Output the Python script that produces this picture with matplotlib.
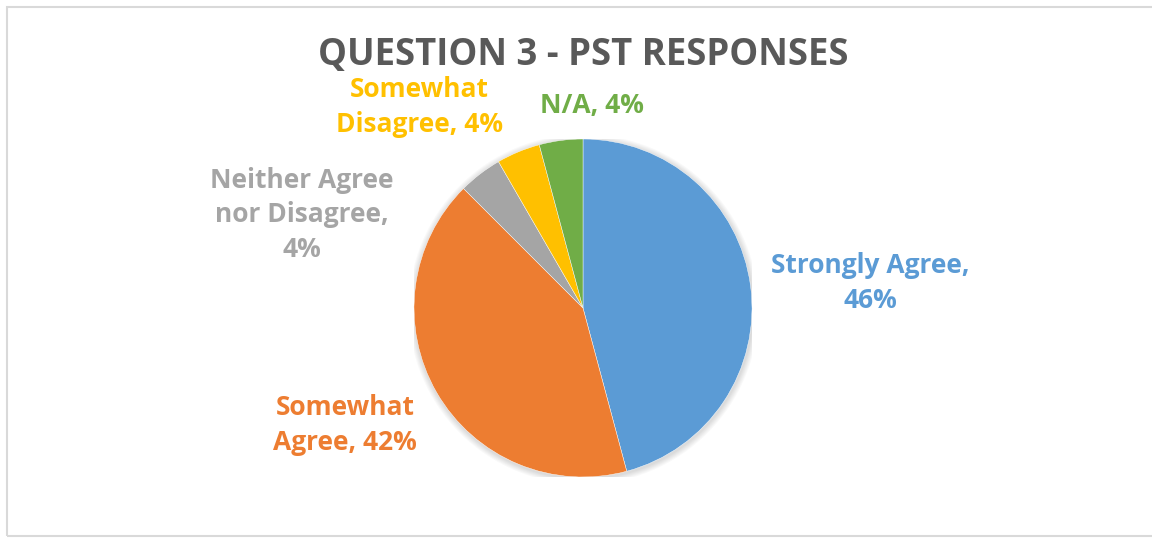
import numpy as np
import matplotlib.pyplot as plt
from matplotlib.patches import Rectangle, Circle

# response counts for question 3
categories = ["Strongly Agree", "Somewhat Agree", "Neither Agree nor Disagree",
              "Somewhat Disagree", "N/A"]
counts = [11, 10, 1, 1, 1]
colors = ["#5B9BD5", "#ED7D31", "#A5A5A5", "#FFC000", "#70AD47"]

# label text lines (category wrapped like the spreadsheet does) and centre in pixels
label_lines = [
    ["Strongly Agree,", "{p}"],
    ["Somewhat", "Agree, {p}"],
    ["Neither Agree", "nor Disagree,", "{p}"],
    ["Somewhat", "Disagree, {p}"],
    ["N/A, {p}"],
]
label_pos = [(870, 283), (345, 425), (302, 215), (419, 107), (592, 105)]

W, H = 1152, 538
fig = plt.figure(figsize=(W / 100, H / 100), dpi=100)
plt.rcParams['font.family'] = ['Open Sans', 'DejaVu Sans']

# chart frame (right side runs off the image)
fig.patches.append(Rectangle((7 / W, 2 / H), 1160 / W, 529 / H, transform=fig.transFigure,
                             fill=False, edgecolor="#D9D9D9", linewidth=1.5))

cx, cy, r = 583, 308, 169
ax = fig.add_axes([(cx - r) / W, (H - cy - r) / H, 2 * r / W, 2 * r / H])

# soft shadow behind the pie
for k in range(6):
    ax.add_patch(Circle((0.004, -0.008), 1 + 0.006 * (k + 1), color="black",
                        alpha=0.025, linewidth=0, zorder=0))

ax.pie(counts, colors=colors, startangle=90, counterclock=False, radius=1,
       wedgeprops=dict(edgecolor="white", linewidth=0.3))
ax.set_xlim(-1, 1)
ax.set_ylim(-1, 1)
ax.set_aspect("equal")
ax.axis("off")

total = sum(counts)
for lines, (x, y), c, n in zip(label_lines, label_pos, colors, counts):
    pct = "{:.0f}%".format(100 * n / total)
    txt = "\n".join(l.format(p=pct) for l in lines)
    fig.text(x / W, 1 - y / H, txt, ha="center", va="center", color=c,
             fontsize=19, fontweight="bold", linespacing=1.38)

fig.text(583 / W, 1 - 55 / H, "QUESTION 3 - PST RESPONSES", ha="center", va="center",
         color="#595959", fontsize=26.3, fontweight="bold")

fig.savefig("out.png", dpi=100)
